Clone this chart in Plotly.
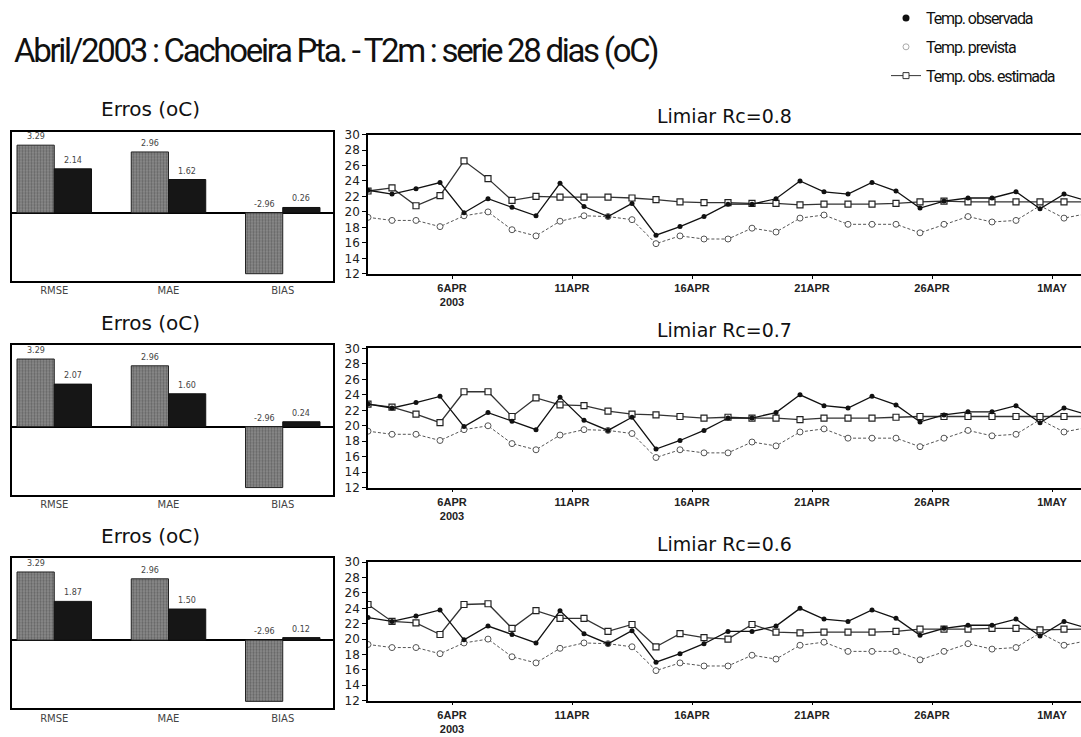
import plotly.graph_objects as go
import pandas as pd

W, H = 1081, 737

# ---------------- data ----------------
dates = pd.date_range("2003-04-02 12:00", periods=31, freq="D")

temp_obs = [22.8, 22.3, 23.0, 23.8, 19.9, 21.7, 20.6, 19.5, 23.7, 20.7, 19.4, 21.1, 17.0, 18.1, 19.4,
            21.0, 21.0, 21.7, 24.0, 22.6, 22.3, 23.8, 22.7, 20.5, 21.4, 21.8, 21.8, 22.6, 20.4, 22.3, 21.4]
temp_prev = [19.3, 18.9, 18.9, 18.1, 19.5, 20.0, 17.7, 16.9, 18.8, 19.5, 19.4, 19.0, 15.9, 16.9, 16.5,
             16.5, 17.9, 17.4, 19.2, 19.6, 18.4, 18.4, 18.4, 17.3, 18.4, 19.4, 18.7, 18.9, 20.8, 19.2, 19.8]
est_rc08 = [22.7, 23.1, 20.8, 22.1, 26.6, 24.3, 21.5, 22.0, 21.9, 21.9, 21.9, 21.8, 21.6, 21.3, 21.2,
            21.2, 21.1, 21.1, 20.9, 21.0, 21.0, 21.0, 21.1, 21.3, 21.4, 21.3, 21.3, 21.3, 21.3, 21.3, 21.3]
est_rc07 = [22.8, 22.4, 21.5, 20.4, 24.4, 24.4, 21.2, 23.6, 22.7, 22.6, 21.9, 21.5, 21.4, 21.2, 21.0,
            21.1, 21.0, 21.0, 20.8, 21.0, 21.0, 21.0, 21.1, 21.2, 21.2, 21.2, 21.2, 21.2, 21.2, 21.2, 21.2]
est_rc06 = [24.5, 22.3, 22.1, 20.6, 24.5, 24.6, 21.4, 23.7, 22.7, 22.7, 21.0, 21.9, 19.0, 20.7, 20.2,
            20.0, 21.9, 20.9, 20.8, 20.9, 20.9, 20.9, 21.0, 21.3, 21.3, 21.3, 21.4, 21.4, 21.2, 21.3, 21.3]

err_metrics = ["RMSE", "MAE", "BIAS"]
err_prev = [3.29, 2.96, -2.96]
err_est_rc08 = [2.14, 1.62, 0.26]
err_est_rc07 = [2.07, 1.60, 0.24]
err_est_rc06 = [1.87, 1.50, 0.12]

limiares = ["0.8", "0.7", "0.6"]
tick_dates = ["2003-04-06", "2003-04-11", "2003-04-16", "2003-04-21", "2003-04-26", "2003-05-01"]
tick_text = ["6APR<br>2003", "11APR", "16APR", "21APR", "26APR", "1MAY"]

panels = [
    (est_rc08, err_est_rc08, limiares[0]),
    (est_rc07, err_est_rc07, limiares[1]),
    (est_rc06, err_est_rc06, limiares[2]),
]

# ---------------- layout geometry (pixels) ----------------
line_y = [(130, 272), (348, 490), (566, 707)]
bar_y = [(127, 279), (345, 497), (562, 715)]
line_x = (368, W)
bar_x = (12, 333)

def xd(a, b):
    return [a / W, b / W]

def yd(top, bot):
    return [1 - bot / H, 1 - top / H]

def tight(s, ls):
    return f'<span style="letter-spacing:{ls}px">{s}</span>'

TFONT = "Roboto, DejaVu Sans, sans-serif"

fig = go.Figure()
layout = dict(
    width=W, height=H,
    margin=dict(l=0, r=0, t=0, b=0),
    paper_bgcolor="white", plot_bgcolor="white",
    showlegend=True,
    barmode="group", bargap=0.348, bargroupgap=0,
    annotations=[], font=dict(family="DejaVu Sans", color="black"),
)

for k, (est, err_est, lim) in enumerate(panels):
    bi = 2 * k + 1
    li = 2 * k + 2
    bx, by = f"x{bi}", f"y{bi}"
    lx, ly = f"x{li}", f"y{li}"

    # ---- bar panel ----
    fig.add_trace(go.Bar(
        x=[0, 1, 2], y=err_prev, xaxis=bx, yaxis=by, showlegend=False,
        marker=dict(color="#7e7e7e",
                    pattern=dict(shape=".", fgcolor="#3d3d3d", bgcolor="#8c8c8c", size=3, solidity=0.45),
                    line=dict(width=1, color="#222")),
    ))
    fig.add_trace(go.Bar(
        x=[0, 1, 2], y=err_est, xaxis=bx, yaxis=by, showlegend=False,
        marker=dict(color="#161616", line=dict(width=1, color="#111")),
    ))
    for i in range(3):
        for v, off in ((err_prev[i], -0.163), (err_est[i], 0.163)):
            layout["annotations"].append(dict(
                x=i + off, y=max(v, 0), xref=bx, yref=by, text=f"{v:.2f}",
                showarrow=False, yanchor="bottom", yshift=2,
                font=dict(size=8, color="#444", family="DejaVu Sans")))
    layout[f"xaxis{bi}"] = dict(
        domain=xd(*bar_x), anchor=by, range=[-0.37, 2.44],
        tickvals=[0, 1, 2], ticktext=err_metrics, ticks="",
        tickfont=dict(size=10, color="#444", family="DejaVu Sans"),
        showline=True, mirror=True, linecolor="black", linewidth=1.5,
        showgrid=False, zeroline=False, fixedrange=True)
    layout[f"yaxis{bi}"] = dict(
        domain=yd(*bar_y[k]), anchor=bx, range=[-3.3, 3.95],
        showticklabels=False, ticks="", showgrid=False,
        zeroline=True, zerolinecolor="black", zerolinewidth=1.5,
        showline=True, mirror=True, linecolor="black", linewidth=1.5)
    layout["annotations"].append(dict(
        x=150 / W, y=1 - (bar_y[k][0] - 23) / H,
        xref="paper", yref="paper", text="Erros (oC)", showarrow=False,
        xanchor="center", yanchor="middle",
        font=dict(size=20, family="DejaVu Sans", color="#111")))

    # ---- line panel ----
    fig.add_trace(go.Scatter(
        x=dates, y=temp_prev, xaxis=lx, yaxis=ly, showlegend=False, mode="lines+markers",
        line=dict(color="#555", width=1, dash="3px,2px"),
        marker=dict(symbol="circle", size=6, color="white", line=dict(color="#555", width=1))))
    fig.add_trace(go.Scatter(
        x=dates, y=est, xaxis=lx, yaxis=ly, showlegend=False, mode="lines+markers",
        line=dict(color="#333", width=1.3),
        marker=dict(symbol="square", size=6, color="white", line=dict(color="#222", width=1.2))))
    fig.add_trace(go.Scatter(
        x=dates, y=temp_obs, xaxis=lx, yaxis=ly, showlegend=False, mode="lines+markers",
        line=dict(color="#111", width=1.3),
        marker=dict(symbol="circle", size=5, color="#111")))
    layout[f"xaxis{li}"] = dict(
        domain=xd(*line_x), anchor=ly, type="date",
        range=["2003-04-02 12:00", "2003-05-02 05:00"],
        tickvals=tick_dates, ticktext=[f"<b>{t}</b>" for t in tick_text],
        ticks="outside", ticklen=3, tickcolor="black",
        tickfont=dict(size=11, family="Liberation Sans", color="#222"),
        showline=True, mirror=True, linecolor="black", linewidth=1.5,
        showgrid=False, zeroline=False)
    layout[f"yaxis{li}"] = dict(
        domain=yd(*line_y[k]), anchor=lx, range=[12, 30], dtick=2,
        ticks="outside", ticklen=4, tickcolor="black",
        tickfont=dict(size=12, family="DejaVu Sans", color="#222"),
        showline=True, mirror=False, linecolor="black", linewidth=1.5,
        showgrid=False, zeroline=False)
    layout["annotations"].append(dict(
        x=(line_x[0] + line_x[1]) / 2 / W, y=1 - (line_y[k][0] - 19) / H,
        xref="paper", yref="paper", text=f"Limiar Rc={lim}", showarrow=False,
        xanchor="center", yanchor="middle",
        font=dict(size=19, family="DejaVu Sans", color="#111")))

# legend entries
fig.add_trace(go.Scatter(x=[None], y=[None], xaxis="x2", yaxis="y2", mode="markers",
                         name=tight("Temp. observada", -1.1), legendgroup="a",
                         marker=dict(symbol="circle", size=7, color="#111")))
fig.add_trace(go.Scatter(x=[None], y=[None], xaxis="x2", yaxis="y2", mode="markers",
                         name=tight("Temp. prevista", -1.1), legendgroup="b",
                         marker=dict(symbol="circle", size=6, color="white", line=dict(color="#aaa", width=1))))
fig.add_trace(go.Scatter(x=[None], y=[None], xaxis="x2", yaxis="y2", mode="lines+markers",
                         name=tight("Temp. obs. estimada", -1.1), legendgroup="c",
                         line=dict(color="#333", width=1),
                         marker=dict(symbol="square", size=6, color="white", line=dict(color="#333", width=1))))

layout["legend"] = dict(x=886 / W, y=1 + 6 / H, xanchor="left", yanchor="top",
                        font=dict(size=16, family=TFONT, color="#111"),
                        bgcolor="rgba(0,0,0,0)", itemwidth=30, tracegroupgap=5)

layout["annotations"].append(dict(
    x=12 / W, y=1 - 44 / H, xref="paper", yref="paper", showarrow=False,
    text=tight("Abril/2003 : Cachoeira Pta. - T2m : serie 28 dias (oC)", -2.3),
    xanchor="left", yanchor="middle",
    font=dict(size=33, family=TFONT, color="#111")))

fig.update_layout(**layout)
fig.write_html("out.html")
